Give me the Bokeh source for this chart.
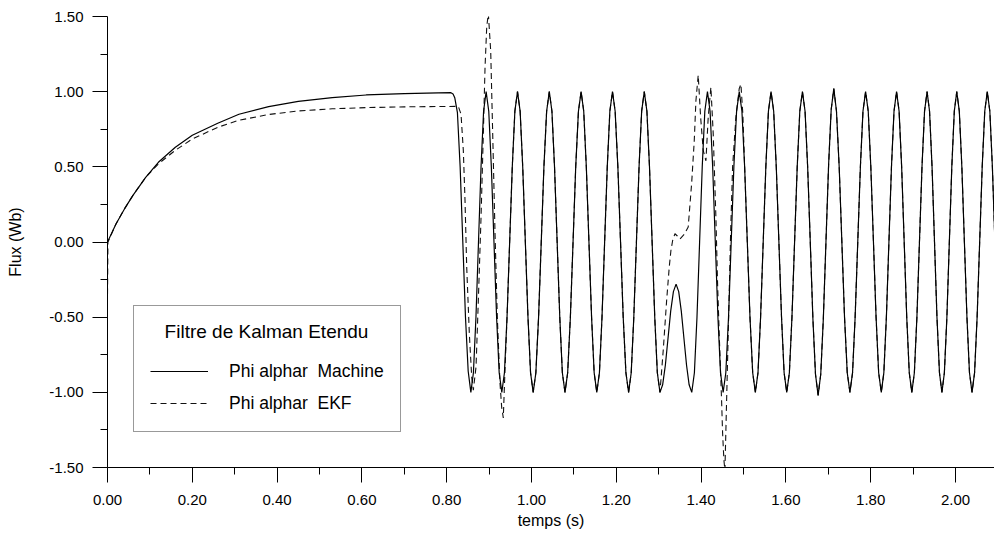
import numpy as np
from bokeh.plotting import figure
from bokeh.models import FixedTicker, NumeralTickFormatter, Legend, LegendItem, Range1d, Label
from bokeh.embed import file_html
from bokeh.resources import INLINE

# ---------------- data ----------------
x_ticks = [0.0, 0.2, 0.4, 0.6, 0.8, 1.0, 1.2, 1.4, 1.6, 1.8, 2.0]
x_minor = [0.1, 0.3, 0.5, 0.7, 0.9, 1.1, 1.3, 1.5, 1.7, 1.9]
y_ticks = [-1.5, -1.0, -0.5, 0.0, 0.5, 1.0, 1.5]
y_minor = [-1.25, -0.75, -0.25, 0.25, 0.75, 1.25]

legend_title = "Filtre de Kalman Etendu"
series_names = ["Phi alphar  Machine", "Phi alphar  EKF"]

# Phi alphar Machine (solid)
machine_t = [
    0.0, 0.02, 0.04, 0.06, 0.09, 0.12, 0.16, 0.20, 0.26, 0.31, 0.38, 0.45, 0.53, 0.61, 0.70, 0.78, 0.810, 0.815,
    0.819, 0.8253, 0.8317, 0.838, 0.8443, 0.8507, 0.857,
    0.863, 0.869, 0.875, 0.881, 0.887, 0.893,
    0.8992, 0.9053, 0.9115, 0.9177, 0.9238, 0.930,
    0.9362, 0.9423, 0.9485, 0.9547, 0.9608, 0.967,
    0.9732, 0.9793, 0.9855, 0.9917, 0.9978, 1.004,
    1.0103, 1.0167, 1.023, 1.0293, 1.0357, 1.042,
    1.0482, 1.0543, 1.0605, 1.0667, 1.0728, 1.079,
    1.0853, 1.0917, 1.098, 1.1043, 1.1107, 1.117,
    1.1232, 1.1293, 1.1355, 1.1417, 1.1478, 1.154,
    1.1602, 1.1663, 1.1725, 1.1787, 1.1848, 1.191,
    1.1973, 1.2037, 1.21, 1.2163, 1.2227, 1.229,
    1.2352, 1.2413, 1.2475, 1.2537, 1.2598, 1.266,
    1.2722, 1.2783, 1.2845, 1.2907, 1.2968, 1.303,
    1.3093, 1.3157, 1.322, 1.3283, 1.3347, 1.341,
    1.3472, 1.3533, 1.3595, 1.3657, 1.3718, 1.378,
    1.3842, 1.3903, 1.3965, 1.4027, 1.4088, 1.415,
    1.4212, 1.4273, 1.4335, 1.4397, 1.4458, 1.452,
    1.4583, 1.4647, 1.471, 1.4773, 1.4837, 1.490,
    1.4963, 1.5027, 1.509, 1.5153, 1.5217, 1.528,
    1.5342, 1.5403, 1.5465, 1.5527, 1.5588, 1.565,
    1.5712, 1.5773, 1.5835, 1.5897, 1.5958, 1.602,
    1.6082, 1.6143, 1.6205, 1.6267, 1.6328, 1.639,
    1.6452, 1.6513, 1.6575, 1.6637, 1.6698, 1.676,
    1.6822, 1.6883, 1.6945, 1.7007, 1.7068, 1.713,
    1.7193, 1.7257, 1.732, 1.7383, 1.7447, 1.751,
    1.7572, 1.7633, 1.7695, 1.7757, 1.7818, 1.788,
    1.7942, 1.8003, 1.8065, 1.8127, 1.8188, 1.825,
    1.831, 1.837, 1.843, 1.849, 1.855, 1.861,
    1.867, 1.873, 1.879, 1.885, 1.891, 1.897,
    1.903, 1.909, 1.915, 1.921, 1.927, 1.933,
    1.9388, 1.9447, 1.9505, 1.9563, 1.9622, 1.968,
    1.9738, 1.9797, 1.9855, 1.9913, 1.9972, 2.003,
    2.009, 2.015, 2.021, 2.027, 2.033, 2.039,
    2.045, 2.051, 2.057, 2.063, 2.069, 2.075,
    2.081, 2.087, 2.093,
]
machine_v = [
    0.0, 0.12, 0.22, 0.31, 0.43, 0.53, 0.63, 0.71, 0.79, 0.85, 0.90, 0.935, 0.96, 0.978, 0.987, 0.992, 0.993, 0.985,
    0.96, 0.86, 0.50, 0.0, -0.50, -0.86, -1.0,
    -0.87, -0.5, 0.0, 0.5, 0.87, 1.0,
    0.87, 0.5, 0.0, -0.5, -0.87, -1.0,
    -0.87, -0.5, 0.0, 0.5, 0.87, 1.0,
    0.87, 0.5, 0.0, -0.5, -0.87, -1.0,
    -0.87, -0.5, 0.0, 0.5, 0.87, 1.0,
    0.87, 0.5, 0.0, -0.5, -0.87, -1.0,
    -0.87, -0.5, 0.0, 0.5, 0.87, 1.0,
    0.87, 0.5, 0.0, -0.5, -0.87, -1.0,
    -0.87, -0.5, 0.0, 0.5, 0.87, 1.0,
    0.87, 0.5, 0.0, -0.5, -0.87, -1.0,
    -0.87, -0.5, 0.0, 0.5, 0.87, 1.0,
    0.87, 0.5, 0.0, -0.5, -0.87, -1.0,
    -0.95, -0.82, -0.64, -0.46, -0.33, -0.28,
    -0.33, -0.46, -0.64, -0.82, -0.95, -1.0,
    -0.87, -0.5, 0.0, 0.5, 0.87, 1.0,
    0.87, 0.5, 0.0, -0.5, -0.87, -1.0,
    -0.87, -0.5, 0.0, 0.5, 0.87, 1.0,
    0.87, 0.5, 0.0, -0.5, -0.87, -1.0,
    -0.87, -0.5, 0.0, 0.5, 0.87, 1.0,
    0.87, 0.5, 0.0, -0.5, -0.87, -1.0,
    -0.87, -0.5, 0.0, 0.5, 0.87, 1.0,
    0.87, 0.5, 0.0, -0.51, -0.88, -1.02,
    -0.88, -0.51, 0.0, 0.51, 0.88, 1.02,
    0.87, 0.5, 0.0, -0.5, -0.87, -1.0,
    -0.87, -0.5, 0.0, 0.5, 0.87, 1.0,
    0.87, 0.5, 0.0, -0.5, -0.87, -1.0,
    -0.87, -0.5, 0.0, 0.5, 0.87, 1.0,
    0.87, 0.5, 0.0, -0.5, -0.87, -1.0,
    -0.87, -0.5, 0.0, 0.5, 0.87, 1.0,
    0.87, 0.5, 0.0, -0.5, -0.87, -1.0,
    -0.87, -0.5, 0.0, 0.5, 0.87, 1.0,
    0.87, 0.5, 0.0, -0.5, -0.87, -1.0,
    -0.87, -0.5, 0.0, 0.5, 0.87, 1.0,
    0.87, 0.5, 0.0,
]

# Phi alphar EKF (dashed): where it departs from the machine flux
ekf_rise_t = [0.0, 0.001, 0.02, 0.04, 0.06, 0.09, 0.12, 0.16, 0.20, 0.26, 0.31, 0.38, 0.45, 0.53, 0.61, 0.70, 0.78, 0.8274]
ekf_rise_v = [-0.35, 0.0, 0.12, 0.22, 0.31, 0.43, 0.52, 0.61, 0.685, 0.763, 0.81, 0.848, 0.872, 0.886, 0.894, 0.899, 0.901, 0.902]
ekf_dev1_t = [0.8338, 0.8392, 0.8432, 0.8472, 0.8534, 0.859, 0.8628, 0.8692, 0.8746, 0.881, 0.8864,
              0.8904, 0.8944, 0.8982, 0.9038, 0.9085, 0.914, 0.9194, 0.9257, 0.9297, 0.9335, 0.9375]
ekf_dev1_v = [0.85, 0.61, 0.277, -0.166, -0.61, -0.90, -0.985, -0.83, -0.39, 0.166, 0.72,
              1.16, 1.43, 1.52, 1.27, 0.72, 0.055, -0.5, -0.94, -1.1, -1.17, -0.85]
ekf_dev2_t = [1.3107, 1.3187, 1.3249, 1.3289, 1.3329, 1.3383, 1.3440, 1.3501, 1.3600, 1.3696, 1.3777, 1.3838,
              1.3878, 1.3932, 1.3989, 1.405, 1.4114, 1.4168, 1.4231, 1.4286, 1.4349, 1.4389, 1.4427, 1.4483,
              1.4507, 1.4538, 1.4562, 1.4602, 1.464, 1.4696, 1.4743, 1.4821, 1.4899, 1.4939, 1.4985]
ekf_dev2_v = [-0.72, -0.39, -0.166, -0.055, 0.01, 0.055, 0.04, 0.02, 0.05, 0.10, 0.39, 0.67,
              0.94, 1.11, 0.83, 0.61, 0.54, 0.83, 1.03, 0.72, 0.166, -0.28, -0.61, -1.05,
              -1.27, -1.45, -1.52, -1.05, -0.61, 0.055, 0.5, 0.83, 1.02, 1.05, 0.85]

assert len(machine_t) == len(machine_v)
assert len(ekf_rise_t) == len(ekf_rise_v)
assert len(ekf_dev1_t) == len(ekf_dev1_v)
assert len(ekf_dev2_t) == len(ekf_dev2_v)

mt = np.array(machine_t)
mv = np.array(machine_v)
seg_a = (mt >= 0.942) & (mt <= 1.3035)
seg_b = mt >= 1.5027
ekf_t = np.concatenate([ekf_rise_t, ekf_dev1_t, mt[seg_a], ekf_dev2_t, mt[seg_b]])
ekf_v = np.concatenate([ekf_rise_v, ekf_dev1_v, mv[seg_a], ekf_dev2_v, mv[seg_b]])

FONT = "Liberation Sans"

p = figure(width=994, height=533, output_backend="svg", toolbar_location=None,
           x_range=Range1d(0.0, 2.092), y_range=Range1d(-1.5, 1.5),
           min_border_left=107, min_border_right=0, min_border_top=16, min_border_bottom=66,
           x_axis_label="temps (s)", y_axis_label="Flux (Wb)")
p.outline_line_color = None
p.xgrid.visible = False
p.ygrid.visible = False
p.background_fill_color = "white"

for ax, ticks, minor in ((p.xaxis[0], x_ticks, x_minor), (p.yaxis[0], y_ticks, y_minor)):
    ax.ticker = FixedTicker(ticks=ticks, minor_ticks=minor)
    ax.formatter = NumeralTickFormatter(format="0.00")
    ax.axis_line_color = "black"
    ax.axis_line_width = 1
    ax.major_tick_line_color = "black"
    ax.minor_tick_line_color = "black"
    ax.major_tick_out = 15
    ax.major_tick_in = 0
    ax.minor_tick_out = 7
    ax.minor_tick_in = 0
    ax.major_label_text_font = FONT
    ax.major_label_text_font_size = "15px"
    ax.major_label_text_color = "black"
    ax.axis_label_text_font = FONT
    ax.axis_label_text_font_size = "16px"
    ax.axis_label_text_font_style = "normal"
    ax.axis_label_text_color = "black"

p.xaxis.major_label_standoff = 12
p.xaxis.axis_label_standoff = 4
p.yaxis.major_label_standoff = 9
p.yaxis.axis_label_standoff = 22

r_ekf = p.line(ekf_t, ekf_v, line_color="#111111", line_width=1.1, line_dash="6 4")
r_mac = p.line(mt, mv, line_color="black", line_width=1.2)

# legend box; the title row is reserved with a blank title and the
# caption is centred over the box with a Label (Bokeh left-aligns legend titles)
legend = Legend(
    items=[LegendItem(label=series_names[0], renderers=[r_mac]),
           LegendItem(label=series_names[1], renderers=[r_ekf])],
    location=(26, 35),
    title=" ",
    title_text_font=FONT, title_text_font_size="19px", title_text_font_style="normal",
    title_standoff=15,
    label_text_font=FONT, label_text_font_size="17.5px", label_text_color="black",
    glyph_width=58, glyph_height=24, label_standoff=21, spacing=8, padding=16,
    border_line_color="#333333", border_line_width=1,
    background_fill_alpha=0.0,
)
p.add_layout(legend)

title_label = Label(x=159, y=136, x_units="screen", y_units="screen", text=legend_title,
                    text_align="center", text_baseline="middle",
                    text_font=FONT, text_font_size="19px", text_color="black")
p.add_layout(title_label)

open("out.html", "w").write(file_html(p, INLINE))
